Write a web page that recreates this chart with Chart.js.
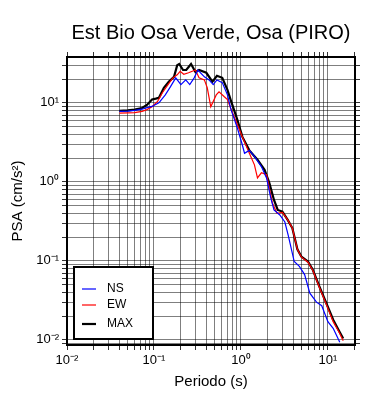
<!DOCTYPE html>
<html>
<head>
<meta charset="utf-8">
<script src="https://cdn.jsdelivr.net/npm/chart.js@4/dist/chart.umd.min.js"></script>
<style>
  html, body { margin: 0; padding: 0; background: #fff; }
  #wrap { width: 390px; height: 400px; }
</style>
</head>
<body>
<div id="wrap"><canvas id="chart" width="390" height="400"></canvas></div>
<script>
// --- data (period in s, PSA in cm/s2) ---
const titleText = 'Est Bio Osa Verde, Osa (PIRO)';

const nsPeriod = [0.04, 0.05, 0.06, 0.073, 0.083, 0.095, 0.114, 0.135, 0.155, 0.178, 0.204, 0.232, 0.258, 0.29, 0.32, 0.38, 0.43, 0.48, 0.53, 0.61, 0.7, 0.77, 0.91, 1.04, 1.1, 1.25, 1.43, 1.72, 1.97, 2.2, 2.4, 2.8, 3.2, 3.5, 4.1, 4.7, 5.4, 6.2, 7.4, 8.5, 10, 11.5, 13.7];
const nsPsa    = [7.8, 7.85, 8.0, 8.3, 8.7, 9.0, 10, 12.6, 16, 20.7, 17, 19.5, 17, 20.7, 26, 21.3, 19.5, 17, 19.5, 18, 12.6, 8.2, 4.8, 2.9, 2.3, 2.5, 2.1, 1.56, 1.12, 0.63, 0.44, 0.38, 0.31, 0.21, 0.098, 0.085, 0.067, 0.039, 0.030, 0.027, 0.017, 0.014, 0.0093];

const ewPeriod = [0.04, 0.05, 0.06, 0.073, 0.083, 0.095, 0.11, 0.125, 0.145, 0.165, 0.185, 0.2, 0.22, 0.25, 0.3, 0.33, 0.38, 0.41, 0.45, 0.52, 0.56, 0.64, 0.7, 0.76, 0.91, 1.04, 1.25, 1.43, 1.55, 1.72, 1.97, 2.12, 2.3, 2.6, 3.0, 3.45, 3.9, 4.46, 4.95, 5.9, 6.7, 8.0, 9.6, 11.5, 13.7, 15];
const ewPsa    = [7.4, 7.45, 7.5, 7.8, 8.2, 8.9, 10.4, 13.4, 17, 20.7, 22.6, 25, 23, 24, 26, 20.7, 19.5, 15.5, 8.9, 12.6, 13.8, 12, 11, 8.6, 5.3, 3.7, 2.3, 1.64, 1.12, 1.3, 1.23, 0.84, 0.54, 0.40, 0.41, 0.33, 0.26, 0.14, 0.112, 0.096, 0.076, 0.046, 0.028, 0.017, 0.012, 0.0097];

const maxPeriod = [0.04, 0.05, 0.06, 0.073, 0.083, 0.095, 0.105, 0.114, 0.13, 0.148, 0.17, 0.185, 0.195, 0.216, 0.235, 0.267, 0.3, 0.33, 0.4, 0.47, 0.53, 0.61, 0.7, 0.77, 0.91, 1.04, 1.25, 1.55, 1.87, 2.12, 2.4, 2.65, 3.0, 3.45, 3.9, 4.46, 4.95, 5.9, 6.7, 8.0, 9.6, 11.5, 13.7, 15];
const maxPsa    = [7.9, 8.0, 8.2, 8.6, 9.4, 11, 11.3, 11.6, 15.5, 18.5, 21.3, 30, 31, 26, 26, 31, 24.6, 26, 24, 18.5, 22, 20.7, 14.6, 10.5, 6.1, 3.7, 2.5, 1.9, 1.42, 0.97, 0.59, 0.44, 0.42, 0.33, 0.26, 0.14, 0.113, 0.098, 0.077, 0.047, 0.029, 0.018, 0.0125, 0.0104];

const xMin = 0.01, xMax = 20.5;
const yMin = 0.0086, yMax = 38;

// 1..9 x 10^n inside [lo, hi]
function logTicks(lo, hi) {
  const out = [];
  for (let e = Math.floor(Math.log10(lo)); e <= Math.ceil(Math.log10(hi)); e++) {
    for (let m = 1; m <= 9; m++) {
      const v = +(m * Math.pow(10, e)).toPrecision(3);
      if (v >= lo * 0.999 && v <= hi * 1.001) out.push(v);
    }
  }
  return out;
}

const sup = { '-': '\u207B', '0': '\u2070', '1': '\u00B9', '2': '\u00B2', '3': '\u00B3' };
function powLabel(v) {
  const e = Math.log10(v);
  if (Math.abs(e - Math.round(e)) > 1e-6) return '';
  return '10' + String(Math.round(e)).split('').map(c => sup[c]).join('');
}

function pts(xs, ys) { return xs.map((x, i) => ({ x: x, y: ys[i] })); }

const FONT = '"Liberation Sans", Arial, Helvetica, sans-serif';
const gridColor = 'rgba(0,0,0,0.5)';

function axis(pos, min, max, extra) {
  return Object.assign({
    type: 'logarithmic',
    position: pos,
    min: min,
    max: max,
    afterBuildTicks: s => { s.ticks = logTicks(min, max).map(v => ({ value: v })); },
    border: { display: true, color: '#000', width: 2 },
    grid: { color: gridColor, lineWidth: 1, tickLength: 5, tickColor: '#333' },
    ticks: {
      autoSkip: false, maxRotation: 0,
      color: '#000', font: { family: FONT, size: 13 },
      callback: v => powLabel(v)
    }
  }, extra);
}

// title in the top band
const titlePlugin = {
  id: 'topTitle',
  afterDraw(chart) {
    const c = chart.ctx, a = chart.chartArea;
    c.save();
    c.fillStyle = '#000';
    c.font = '20px ' + FONT;
    c.textAlign = 'center';
    c.textBaseline = 'middle';
    c.fillText(titleText, (a.left + a.right) / 2, 33);
    c.restore();
  }
};

// boxed legend in the lower-left corner of the plot
const boxLegend = {
  id: 'boxLegend',
  afterDraw(chart) {
    const c = chart.ctx, a = chart.chartArea;
    const x0 = a.left + 7, y0 = a.bottom - 78, w = 79, h = 72;
    c.save();
    c.fillStyle = '#fff';
    c.fillRect(x0, y0, w, h);
    c.strokeStyle = '#000';
    c.lineWidth = 2;
    c.strokeRect(x0, y0, w, h);
    c.font = '12px ' + FONT;
    c.textBaseline = 'middle';
    const rows = [y0 + 22, y0 + 38, y0 + 57];
    chart.data.datasets.forEach((ds, i) => {
      c.strokeStyle = ds.borderColor;
      c.lineWidth = ds.borderWidth;
      c.beginPath();
      c.moveTo(x0 + 8, rows[i]);
      c.lineTo(x0 + 22, rows[i]);
      c.stroke();
      c.fillStyle = '#000';
      c.fillText(ds.label, x0 + 33, rows[i]);
    });
    c.restore();
  }
};

new Chart(document.getElementById('chart'), {
  type: 'line',
  data: {
    datasets: [
      { label: 'NS', data: pts(nsPeriod, nsPsa), borderColor: '#0000ff', borderWidth: 1.2 },
      { label: 'EW', data: pts(ewPeriod, ewPsa), borderColor: '#ff0000', borderWidth: 1.2 },
      { label: 'MAX', data: pts(maxPeriod, maxPsa), borderColor: '#000000', borderWidth: 2.2 }
    ]
  },
  options: {
    responsive: false,
    animation: false,
    parsing: false,
    layout: { padding: { top: 51, left: 0, right: 0, bottom: 0 } },
    elements: { point: { radius: 0 }, line: { tension: 0 } },
    plugins: { legend: { display: false }, tooltip: { enabled: false }, title: { display: false } },
    scales: {
      x: axis('bottom', xMin, xMax, {
        afterFit: s => { s.height = 55; },
        title: { display: true, text: 'Periodo (s)', color: '#000', font: { family: FONT, size: 15 }, padding: { top: 0, bottom: 9 } }
      }),
      y: axis('left', yMin, yMax, {
        afterFit: s => { s.width = 67; },
        title: { display: true, text: 'PSA (cm/s\u00B2)', color: '#000', font: { family: FONT, size: 15 }, padding: { top: 9, bottom: 0 } }
      }),
      x2: axis('top', xMin, xMax, {
        afterFit: s => { s.height = 6; },
        grid: { drawOnChartArea: false, tickLength: 5, tickColor: '#333' },
        ticks: { display: false }
      }),
      y2: axis('right', yMin, yMax, {
        afterFit: s => { s.width = 35; },
        grid: { drawOnChartArea: false, tickLength: 5, tickColor: '#333' },
        ticks: { display: false }
      })
    }
  },
  plugins: [titlePlugin, boxLegend]
});
</script>
</body>
</html>
